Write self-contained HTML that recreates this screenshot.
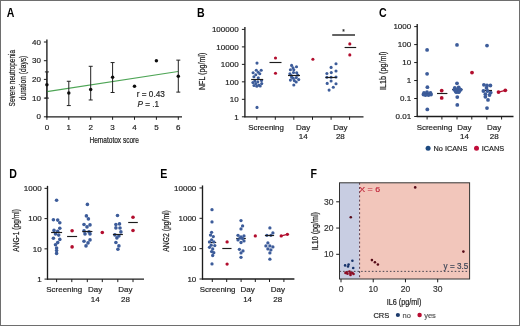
<!DOCTYPE html>
<html><head><meta charset="utf-8"><style>
html,body{margin:0;padding:0;background:#fff;}
svg{display:block;}
text{font-family:"Liberation Sans", sans-serif;}
</style></head><body>
<svg width="520" height="326" viewBox="0 0 520 326">
<defs><filter id="soft" x="-5%" y="-5%" width="110%" height="110%"><feGaussianBlur stdDeviation="0.32"/></filter></defs>
<rect x="0" y="0" width="520" height="326" fill="#fff"/>
<g filter="url(#soft)">
<rect x="1" y="1" width="518" height="324" fill="#fff"/>
<text x="0" y="0" font-size="10.6" font-weight="bold" fill="#000" transform="translate(6.80 16.90) scale(1 1.12)">A</text>
<path d="M46.9 39.5L46.9 117.3" stroke="#1c1c1c" stroke-width="1.35"/>
<path d="M43.9 116.8L46.9 116.8" stroke="#1c1c1c" stroke-width="1.0"/>
<text x="40.9" y="119.3" font-size="8.0" fill="#222" text-anchor="end" stroke="#222" stroke-width="0.18">0</text>
<path d="M43.9 98.1L46.9 98.1" stroke="#1c1c1c" stroke-width="1.0"/>
<text x="40.9" y="100.6" font-size="8.0" fill="#222" text-anchor="end" stroke="#222" stroke-width="0.18">10</text>
<path d="M43.9 79.4L46.9 79.4" stroke="#1c1c1c" stroke-width="1.0"/>
<text x="40.9" y="81.9" font-size="8.0" fill="#222" text-anchor="end" stroke="#222" stroke-width="0.18">20</text>
<path d="M43.9 60.7L46.9 60.7" stroke="#1c1c1c" stroke-width="1.0"/>
<text x="40.9" y="63.2" font-size="8.0" fill="#222" text-anchor="end" stroke="#222" stroke-width="0.18">30</text>
<path d="M43.9 42L46.9 42" stroke="#1c1c1c" stroke-width="1.0"/>
<text x="40.9" y="44.5" font-size="8.0" fill="#222" text-anchor="end" stroke="#222" stroke-width="0.18">40</text>
<path d="M46.4 116.8L182 116.8" stroke="#1c1c1c" stroke-width="1.35"/>
<path d="M46.9 116.8L46.9 119.8" stroke="#1c1c1c" stroke-width="1.0"/>
<text x="46.9" y="130" font-size="8.0" fill="#222" text-anchor="middle" stroke="#222" stroke-width="0.18">0</text>
<path d="M68.8 116.8L68.8 119.8" stroke="#1c1c1c" stroke-width="1.0"/>
<text x="68.8" y="130" font-size="8.0" fill="#222" text-anchor="middle" stroke="#222" stroke-width="0.18">1</text>
<path d="M90.7 116.8L90.7 119.8" stroke="#1c1c1c" stroke-width="1.0"/>
<text x="90.7" y="130" font-size="8.0" fill="#222" text-anchor="middle" stroke="#222" stroke-width="0.18">2</text>
<path d="M112.6 116.8L112.6 119.8" stroke="#1c1c1c" stroke-width="1.0"/>
<text x="112.6" y="130" font-size="8.0" fill="#222" text-anchor="middle" stroke="#222" stroke-width="0.18">3</text>
<path d="M134.5 116.8L134.5 119.8" stroke="#1c1c1c" stroke-width="1.0"/>
<text x="134.5" y="130" font-size="8.0" fill="#222" text-anchor="middle" stroke="#222" stroke-width="0.18">4</text>
<path d="M156.4 116.8L156.4 119.8" stroke="#1c1c1c" stroke-width="1.0"/>
<text x="156.4" y="130" font-size="8.0" fill="#222" text-anchor="middle" stroke="#222" stroke-width="0.18">5</text>
<path d="M178.3 116.8L178.3 119.8" stroke="#1c1c1c" stroke-width="1.0"/>
<text x="178.3" y="130" font-size="8.0" fill="#222" text-anchor="middle" stroke="#222" stroke-width="0.18">6</text>
<text x="114.2" y="142.8" font-size="9.0" fill="#222" text-anchor="middle" stroke="#222" stroke-width="0.22" textLength="49.4" lengthAdjust="spacingAndGlyphs">Hematotox score</text>
<text x="15.3" y="78.2" font-size="9.6" fill="#222" text-anchor="middle" stroke="#222" stroke-width="0.22" textLength="56.4" lengthAdjust="spacingAndGlyphs" transform="rotate(-90 15.3 78.2)">Severe neutropenia</text>
<text x="25.9" y="78" font-size="9.6" fill="#222" text-anchor="middle" stroke="#222" stroke-width="0.22" textLength="44.6" lengthAdjust="spacingAndGlyphs" transform="rotate(-90 25.9 78)">duration (days)</text>
<path d="M47 91.6L178 71.5" stroke="#4ea556" stroke-width="1.1"/>
<path d="M46.9 71.92L46.9 98.1" stroke="#222" stroke-width="1.0"/>
<path d="M44.9 71.92L48.9 71.92" stroke="#222" stroke-width="1.0"/>
<path d="M44.9 98.1L48.9 98.1" stroke="#222" stroke-width="1.0"/>
<path d="M68.8 81.27L68.8 105.58" stroke="#222" stroke-width="1.0"/>
<path d="M66.8 81.27L70.8 81.27" stroke="#222" stroke-width="1.0"/>
<path d="M66.8 105.58L70.8 105.58" stroke="#222" stroke-width="1.0"/>
<path d="M90.7 66.31L90.7 99.97" stroke="#222" stroke-width="1.0"/>
<path d="M88.7 66.31L92.7 66.31" stroke="#222" stroke-width="1.0"/>
<path d="M88.7 99.97L92.7 99.97" stroke="#222" stroke-width="1.0"/>
<path d="M112.6 62.57L112.6 92.49" stroke="#222" stroke-width="1.0"/>
<path d="M110.6 62.57L114.6 62.57" stroke="#222" stroke-width="1.0"/>
<path d="M110.6 92.49L114.6 92.49" stroke="#222" stroke-width="1.0"/>
<path d="M178.3 60.14L178.3 92.12" stroke="#222" stroke-width="1.0"/>
<path d="M176.3 60.14L180.3 60.14" stroke="#222" stroke-width="1.0"/>
<path d="M176.3 92.12L180.3 92.12" stroke="#222" stroke-width="1.0"/>
<circle cx="46.9" cy="84.82" r="1.75" fill="#111"/>
<circle cx="68.8" cy="93.05" r="1.75" fill="#111"/>
<circle cx="90.7" cy="89.5" r="1.75" fill="#111"/>
<circle cx="112.6" cy="77.34" r="1.75" fill="#111"/>
<circle cx="134.5" cy="86.13" r="1.75" fill="#111"/>
<circle cx="156.4" cy="60.7" r="1.75" fill="#111"/>
<circle cx="178.3" cy="76.22" r="1.75" fill="#111"/>
<text x="136.8" y="97" font-size="8.2" fill="#222" stroke="#222" stroke-width="0.18">r = 0.43</text>
<text x="137.4" y="106.8" font-size="8.2" fill="#222" stroke="#222" stroke-width="0.18"><tspan font-style="italic">P</tspan> = .1</text>
<text x="0" y="0" font-size="10.6" font-weight="bold" fill="#000" transform="translate(197.00 17.10) scale(1 1.12)">B</text>
<path d="M244.9 26.9L244.9 117.3" stroke="#1c1c1c" stroke-width="1.35"/>
<path d="M241.9 116.8L244.9 116.8" stroke="#1c1c1c" stroke-width="1.0"/>
<text x="238.6" y="119.5" font-size="8.0" fill="#222" text-anchor="end" stroke="#222" stroke-width="0.18">1</text>
<path d="M241.9 99.32L244.9 99.32" stroke="#1c1c1c" stroke-width="1.0"/>
<text x="238.6" y="102.02" font-size="8.0" fill="#222" text-anchor="end" stroke="#222" stroke-width="0.18">10</text>
<path d="M241.9 81.84L244.9 81.84" stroke="#1c1c1c" stroke-width="1.0"/>
<text x="238.6" y="84.54" font-size="8.0" fill="#222" text-anchor="end" stroke="#222" stroke-width="0.18">100</text>
<path d="M241.9 64.36L244.9 64.36" stroke="#1c1c1c" stroke-width="1.0"/>
<text x="238.6" y="67.06" font-size="8.0" fill="#222" text-anchor="end" stroke="#222" stroke-width="0.18">1000</text>
<path d="M241.9 46.88L244.9 46.88" stroke="#1c1c1c" stroke-width="1.0"/>
<text x="238.6" y="49.58" font-size="8.0" fill="#222" text-anchor="end" stroke="#222" stroke-width="0.18">10000</text>
<path d="M241.9 29.4L244.9 29.4" stroke="#1c1c1c" stroke-width="1.0"/>
<text x="238.6" y="32.1" font-size="8.0" fill="#222" text-anchor="end" stroke="#222" stroke-width="0.18">100000</text>
<path d="M244.4 116.8L363.5 116.8" stroke="#1c1c1c" stroke-width="1.35"/>
<path d="M256.8 116.8L256.8 119.8" stroke="#1c1c1c" stroke-width="1.0"/>
<path d="M275.3 116.8L275.3 119.8" stroke="#1c1c1c" stroke-width="1.0"/>
<path d="M293.8 116.8L293.8 119.8" stroke="#1c1c1c" stroke-width="1.0"/>
<path d="M312.5 116.8L312.5 119.8" stroke="#1c1c1c" stroke-width="1.0"/>
<path d="M331.1 116.8L331.1 119.8" stroke="#1c1c1c" stroke-width="1.0"/>
<path d="M349.6 116.8L349.6 119.8" stroke="#1c1c1c" stroke-width="1.0"/>
<text x="266.05" y="129.5" font-size="7.95" fill="#222" text-anchor="middle" stroke="#222" stroke-width="0.18">Screening</text>
<text x="303.15" y="129.5" font-size="8.0" fill="#222" text-anchor="middle" stroke="#222" stroke-width="0.18">Day</text>
<text x="303.15" y="139.1" font-size="8.0" fill="#222" text-anchor="middle" stroke="#222" stroke-width="0.18">14</text>
<text x="340.35" y="129.5" font-size="8.0" fill="#222" text-anchor="middle" stroke="#222" stroke-width="0.18">Day</text>
<text x="340.35" y="139.1" font-size="8.0" fill="#222" text-anchor="middle" stroke="#222" stroke-width="0.18">28</text>
<text x="205.3" y="71.4" font-size="9.0" fill="#222" text-anchor="middle" stroke="#222" stroke-width="0.22" textLength="37.4" lengthAdjust="spacingAndGlyphs" transform="rotate(-90 205.3 71.4)">NFL (pg/ml)</text>
<circle cx="257" cy="63.1" r="1.55" fill="#3c5c9a"/>
<circle cx="256.3" cy="70.3" r="1.55" fill="#3c5c9a"/>
<circle cx="261.2" cy="70.3" r="1.55" fill="#3c5c9a"/>
<circle cx="253.1" cy="72.8" r="1.55" fill="#3c5c9a"/>
<circle cx="258.3" cy="72.3" r="1.55" fill="#3c5c9a"/>
<circle cx="255.8" cy="74.7" r="1.55" fill="#3c5c9a"/>
<circle cx="259.8" cy="73.8" r="1.55" fill="#3c5c9a"/>
<circle cx="253.9" cy="76.7" r="1.55" fill="#3c5c9a"/>
<circle cx="258.3" cy="77.7" r="1.55" fill="#3c5c9a"/>
<circle cx="252.9" cy="82.6" r="1.55" fill="#3c5c9a"/>
<circle cx="255.8" cy="83.6" r="1.55" fill="#3c5c9a"/>
<circle cx="258.8" cy="85.1" r="1.55" fill="#3c5c9a"/>
<circle cx="261.7" cy="83.6" r="1.55" fill="#3c5c9a"/>
<circle cx="257" cy="107.4" r="1.55" fill="#3c5c9a"/>
<circle cx="261.5" cy="80.5" r="1.55" fill="#3c5c9a"/>
<circle cx="254.8" cy="81" r="1.55" fill="#3c5c9a"/>
<circle cx="257.8" cy="81.8" r="1.55" fill="#3c5c9a"/>
<circle cx="254" cy="85.5" r="1.55" fill="#3c5c9a"/>
<circle cx="256.8" cy="86.2" r="1.55" fill="#3c5c9a"/>
<circle cx="260.2" cy="86" r="1.55" fill="#3c5c9a"/>
<path d="M251.2 79.5L263.2 79.5" stroke="#1a1a1a" stroke-width="1.15"/>
<circle cx="275.5" cy="58" r="1.55" fill="#b20f2e"/>
<circle cx="275.5" cy="73.3" r="1.55" fill="#b20f2e"/>
<path d="M269.5 62.5L281.5 62.5" stroke="#1a1a1a" stroke-width="1.15"/>
<circle cx="291.6" cy="65.4" r="1.55" fill="#3c5c9a"/>
<circle cx="296.5" cy="66.7" r="1.55" fill="#3c5c9a"/>
<circle cx="290.4" cy="69.8" r="1.55" fill="#3c5c9a"/>
<circle cx="293.8" cy="69.8" r="1.55" fill="#3c5c9a"/>
<circle cx="296.7" cy="72.7" r="1.55" fill="#3c5c9a"/>
<circle cx="289.9" cy="73.7" r="1.55" fill="#3c5c9a"/>
<circle cx="291.8" cy="77.2" r="1.55" fill="#3c5c9a"/>
<circle cx="296.3" cy="77.6" r="1.55" fill="#3c5c9a"/>
<circle cx="290.4" cy="80.1" r="1.55" fill="#3c5c9a"/>
<circle cx="294.3" cy="80.6" r="1.55" fill="#3c5c9a"/>
<circle cx="298.7" cy="79.6" r="1.55" fill="#3c5c9a"/>
<circle cx="293.8" cy="85" r="1.55" fill="#3c5c9a"/>
<circle cx="293.5" cy="72.5" r="1.55" fill="#3c5c9a"/>
<circle cx="291.2" cy="75.5" r="1.55" fill="#3c5c9a"/>
<circle cx="297.8" cy="75" r="1.55" fill="#3c5c9a"/>
<circle cx="293.2" cy="78.2" r="1.55" fill="#3c5c9a"/>
<circle cx="296.2" cy="82" r="1.55" fill="#3c5c9a"/>
<circle cx="293" cy="67.8" r="1.55" fill="#3c5c9a"/>
<path d="M288 75.5L300 75.5" stroke="#1a1a1a" stroke-width="1.15"/>
<circle cx="312.9" cy="59.3" r="1.55" fill="#b20f2e"/>
<circle cx="336" cy="63.7" r="1.55" fill="#3c5c9a"/>
<circle cx="331.1" cy="67.4" r="1.55" fill="#3c5c9a"/>
<circle cx="336" cy="71" r="1.55" fill="#3c5c9a"/>
<circle cx="326.9" cy="73.5" r="1.55" fill="#3c5c9a"/>
<circle cx="331.3" cy="72.6" r="1.55" fill="#3c5c9a"/>
<circle cx="326.9" cy="77.3" r="1.55" fill="#3c5c9a"/>
<circle cx="331.1" cy="77.3" r="1.55" fill="#3c5c9a"/>
<circle cx="336" cy="77" r="1.55" fill="#3c5c9a"/>
<circle cx="331.1" cy="81" r="1.55" fill="#3c5c9a"/>
<circle cx="327.2" cy="83.4" r="1.55" fill="#3c5c9a"/>
<circle cx="336" cy="83.8" r="1.55" fill="#3c5c9a"/>
<circle cx="333.3" cy="87.3" r="1.55" fill="#3c5c9a"/>
<circle cx="329.1" cy="90.1" r="1.55" fill="#3c5c9a"/>
<path d="M325.5 77.5L336.7 77.5" stroke="#1a1a1a" stroke-width="1.15"/>
<circle cx="349.8" cy="43.9" r="1.55" fill="#b20f2e"/>
<circle cx="349.8" cy="54.9" r="1.55" fill="#b20f2e"/>
<path d="M344.6 47.5L356.2 47.5" stroke="#1a1a1a" stroke-width="1.15"/>
<path d="M332.2 35L355 35" stroke="#222" stroke-width="1.4"/>
<text x="343.5" y="33.6" font-size="6.5" fill="#222" text-anchor="middle" stroke="#222" stroke-width="0.18">*</text>
<text x="0" y="0" font-size="10.6" font-weight="bold" fill="#000" transform="translate(379.00 17.10) scale(1 1.12)">C</text>
<path d="M417.2 24.1L417.2 117" stroke="#1c1c1c" stroke-width="1.35"/>
<path d="M414.2 116.5L417.2 116.5" stroke="#1c1c1c" stroke-width="1.0"/>
<text x="411.2" y="119.2" font-size="8.0" fill="#222" text-anchor="end" stroke="#222" stroke-width="0.18">0.01</text>
<path d="M414.2 98.52L417.2 98.52" stroke="#1c1c1c" stroke-width="1.0"/>
<text x="411.2" y="101.22" font-size="8.0" fill="#222" text-anchor="end" stroke="#222" stroke-width="0.18">0.1</text>
<path d="M414.2 80.54L417.2 80.54" stroke="#1c1c1c" stroke-width="1.0"/>
<text x="411.2" y="83.24" font-size="8.0" fill="#222" text-anchor="end" stroke="#222" stroke-width="0.18">1</text>
<path d="M414.2 62.56L417.2 62.56" stroke="#1c1c1c" stroke-width="1.0"/>
<text x="411.2" y="65.26" font-size="8.0" fill="#222" text-anchor="end" stroke="#222" stroke-width="0.18">10</text>
<path d="M414.2 44.58L417.2 44.58" stroke="#1c1c1c" stroke-width="1.0"/>
<text x="411.2" y="47.28" font-size="8.0" fill="#222" text-anchor="end" stroke="#222" stroke-width="0.18">100</text>
<path d="M414.2 26.6L417.2 26.6" stroke="#1c1c1c" stroke-width="1.0"/>
<text x="411.2" y="29.3" font-size="8.0" fill="#222" text-anchor="end" stroke="#222" stroke-width="0.18">1000</text>
<path d="M416.7 116.5L513.5 116.5" stroke="#1c1c1c" stroke-width="1.35"/>
<path d="M427.1 116.5L427.1 119.5" stroke="#1c1c1c" stroke-width="1.0"/>
<path d="M441.9 116.5L441.9 119.5" stroke="#1c1c1c" stroke-width="1.0"/>
<path d="M457 116.5L457 119.5" stroke="#1c1c1c" stroke-width="1.0"/>
<path d="M471.8 116.5L471.8 119.5" stroke="#1c1c1c" stroke-width="1.0"/>
<path d="M486.8 116.5L486.8 119.5" stroke="#1c1c1c" stroke-width="1.0"/>
<path d="M501.6 116.5L501.6 119.5" stroke="#1c1c1c" stroke-width="1.0"/>
<text x="434.5" y="129.7" font-size="7.95" fill="#222" text-anchor="middle" stroke="#222" stroke-width="0.18">Screening</text>
<text x="464.4" y="129.7" font-size="8.0" fill="#222" text-anchor="middle" stroke="#222" stroke-width="0.18">Day</text>
<text x="464.4" y="138.9" font-size="8.0" fill="#222" text-anchor="middle" stroke="#222" stroke-width="0.18">14</text>
<text x="494.2" y="129.7" font-size="8.0" fill="#222" text-anchor="middle" stroke="#222" stroke-width="0.18">Day</text>
<text x="494.2" y="138.9" font-size="8.0" fill="#222" text-anchor="middle" stroke="#222" stroke-width="0.18">28</text>
<text x="385.9" y="70.8" font-size="9.0" fill="#222" text-anchor="middle" stroke="#222" stroke-width="0.22" textLength="38.4" lengthAdjust="spacingAndGlyphs" transform="rotate(-90 385.9 70.8)">IL1b (pg/ml)</text>
<path d="M421.9 93.5L432.3 93.5" stroke="#1a1a1a" stroke-width="1.15"/>
<path d="M452.1 89.5L462.5 89.5" stroke="#1a1a1a" stroke-width="1.15"/>
<path d="M482 90.5L492 90.5" stroke="#1a1a1a" stroke-width="1.15"/>
<circle cx="427.1" cy="49.9" r="1.9" fill="#3c5c9a"/>
<circle cx="427.1" cy="73.8" r="1.9" fill="#3c5c9a"/>
<circle cx="427.4" cy="87.2" r="1.9" fill="#3c5c9a"/>
<circle cx="424" cy="93" r="1.9" fill="#3c5c9a"/>
<circle cx="427" cy="92.2" r="1.9" fill="#3c5c9a"/>
<circle cx="430.5" cy="93" r="1.9" fill="#3c5c9a"/>
<circle cx="425.5" cy="95" r="1.9" fill="#3c5c9a"/>
<circle cx="428.5" cy="95" r="1.9" fill="#3c5c9a"/>
<circle cx="423.5" cy="94.6" r="1.9" fill="#3c5c9a"/>
<circle cx="431" cy="94.6" r="1.9" fill="#3c5c9a"/>
<circle cx="427.3" cy="109.4" r="1.9" fill="#3c5c9a"/>
<circle cx="441.7" cy="90.6" r="1.9" fill="#b20f2e"/>
<circle cx="441.7" cy="97.9" r="1.9" fill="#b20f2e"/>
<path d="M437 93.5L447.4 93.5" stroke="#1a1a1a" stroke-width="1.15"/>
<circle cx="457" cy="44.9" r="1.9" fill="#3c5c9a"/>
<circle cx="457" cy="83.3" r="1.9" fill="#3c5c9a"/>
<circle cx="454.8" cy="87.8" r="1.9" fill="#3c5c9a"/>
<circle cx="458.7" cy="87.3" r="1.9" fill="#3c5c9a"/>
<circle cx="454.3" cy="89.7" r="1.9" fill="#3c5c9a"/>
<circle cx="457.3" cy="89.7" r="1.9" fill="#3c5c9a"/>
<circle cx="460.7" cy="89.7" r="1.9" fill="#3c5c9a"/>
<circle cx="456.3" cy="92.2" r="1.9" fill="#3c5c9a"/>
<circle cx="458.7" cy="92.2" r="1.9" fill="#3c5c9a"/>
<circle cx="455.5" cy="91" r="1.9" fill="#3c5c9a"/>
<circle cx="459.5" cy="90.8" r="1.9" fill="#3c5c9a"/>
<circle cx="457.3" cy="97.1" r="1.9" fill="#3c5c9a"/>
<circle cx="457.3" cy="104.9" r="1.9" fill="#3c5c9a"/>
<circle cx="472" cy="72.6" r="1.9" fill="#b20f2e"/>
<circle cx="487" cy="45.6" r="1.9" fill="#3c5c9a"/>
<circle cx="483.9" cy="84.8" r="1.9" fill="#3c5c9a"/>
<circle cx="487" cy="85.5" r="1.9" fill="#3c5c9a"/>
<circle cx="490.4" cy="85.5" r="1.9" fill="#3c5c9a"/>
<circle cx="486.5" cy="87.9" r="1.9" fill="#3c5c9a"/>
<circle cx="483.4" cy="91" r="1.9" fill="#3c5c9a"/>
<circle cx="487.5" cy="91" r="1.9" fill="#3c5c9a"/>
<circle cx="490.7" cy="92.6" r="1.9" fill="#3c5c9a"/>
<circle cx="485.4" cy="94.2" r="1.9" fill="#3c5c9a"/>
<circle cx="485.4" cy="96.8" r="1.9" fill="#3c5c9a"/>
<circle cx="488" cy="99.9" r="1.9" fill="#3c5c9a"/>
<circle cx="487" cy="108.1" r="1.9" fill="#3c5c9a"/>
<circle cx="489.5" cy="95" r="1.9" fill="#3c5c9a"/>
<circle cx="498.5" cy="92.1" r="1.9" fill="#b20f2e"/>
<circle cx="505.3" cy="90.3" r="1.9" fill="#b20f2e"/>
<path d="M498.5 92.1L505.3 90.3" stroke="#b20f2e" stroke-width="1.3"/>
<circle cx="428.1" cy="148.3" r="2.5" fill="#1f4a80"/>
<text x="433.6" y="150.9" font-size="7.3" fill="#222" stroke="#222" stroke-width="0.18">No ICANS</text>
<circle cx="476.5" cy="148.3" r="2.5" fill="#c0103a"/>
<text x="481.8" y="150.9" font-size="7.3" fill="#222" stroke="#222" stroke-width="0.18">ICANS</text>
<text x="0" y="0" font-size="10.6" font-weight="bold" fill="#000" transform="translate(9.30 178.30) scale(1 1.12)">D</text>
<path d="M47.5 185.85L47.5 279.6" stroke="#1c1c1c" stroke-width="1.35"/>
<path d="M44.5 279.1L47.5 279.1" stroke="#1c1c1c" stroke-width="1.0"/>
<text x="41.6" y="281.8" font-size="8.0" fill="#222" text-anchor="end" stroke="#222" stroke-width="0.18">1</text>
<path d="M44.5 248.85L47.5 248.85" stroke="#1c1c1c" stroke-width="1.0"/>
<text x="41.6" y="251.55" font-size="8.0" fill="#222" text-anchor="end" stroke="#222" stroke-width="0.18">10</text>
<path d="M44.5 218.6L47.5 218.6" stroke="#1c1c1c" stroke-width="1.0"/>
<text x="41.6" y="221.3" font-size="8.0" fill="#222" text-anchor="end" stroke="#222" stroke-width="0.18">100</text>
<path d="M44.5 188.35L47.5 188.35" stroke="#1c1c1c" stroke-width="1.0"/>
<text x="41.6" y="191.05" font-size="8.0" fill="#222" text-anchor="end" stroke="#222" stroke-width="0.18">1000</text>
<path d="M47 279.1L144 279.1" stroke="#1c1c1c" stroke-width="1.35"/>
<path d="M56.6 279.1L56.6 282.1" stroke="#1c1c1c" stroke-width="1.0"/>
<path d="M71.8 279.1L71.8 282.1" stroke="#1c1c1c" stroke-width="1.0"/>
<path d="M87.3 279.1L87.3 282.1" stroke="#1c1c1c" stroke-width="1.0"/>
<path d="M102.3 279.1L102.3 282.1" stroke="#1c1c1c" stroke-width="1.0"/>
<path d="M117.8 279.1L117.8 282.1" stroke="#1c1c1c" stroke-width="1.0"/>
<path d="M133 279.1L133 282.1" stroke="#1c1c1c" stroke-width="1.0"/>
<text x="64.2" y="291.9" font-size="7.95" fill="#222" text-anchor="middle" stroke="#222" stroke-width="0.18">Screening</text>
<text x="95.2" y="291.9" font-size="8.0" fill="#222" text-anchor="middle" stroke="#222" stroke-width="0.18">Day</text>
<text x="95.2" y="302.2" font-size="8.0" fill="#222" text-anchor="middle" stroke="#222" stroke-width="0.18">14</text>
<text x="125.4" y="291.9" font-size="8.0" fill="#222" text-anchor="middle" stroke="#222" stroke-width="0.18">Day</text>
<text x="125.4" y="302.2" font-size="8.0" fill="#222" text-anchor="middle" stroke="#222" stroke-width="0.18">28</text>
<text x="18.8" y="230.4" font-size="9.0" fill="#222" text-anchor="middle" stroke="#222" stroke-width="0.22" textLength="42.6" lengthAdjust="spacingAndGlyphs" transform="rotate(-90 18.8 230.4)">ANG-1 (pg/ml)</text>
<circle cx="56.6" cy="200.3" r="1.8" fill="#3c5c9a"/>
<circle cx="53.4" cy="219.7" r="1.8" fill="#3c5c9a"/>
<circle cx="57.7" cy="220.1" r="1.8" fill="#3c5c9a"/>
<circle cx="59.8" cy="222.7" r="1.8" fill="#3c5c9a"/>
<circle cx="59.8" cy="228.2" r="1.8" fill="#3c5c9a"/>
<circle cx="54" cy="230.4" r="1.8" fill="#3c5c9a"/>
<circle cx="57.7" cy="231.3" r="1.8" fill="#3c5c9a"/>
<circle cx="55.5" cy="234" r="1.8" fill="#3c5c9a"/>
<circle cx="58.7" cy="235.1" r="1.8" fill="#3c5c9a"/>
<circle cx="53.4" cy="238.3" r="1.8" fill="#3c5c9a"/>
<circle cx="59.8" cy="239.4" r="1.8" fill="#3c5c9a"/>
<circle cx="57.7" cy="242.6" r="1.8" fill="#3c5c9a"/>
<circle cx="55.5" cy="244.8" r="1.8" fill="#3c5c9a"/>
<circle cx="56.6" cy="248" r="1.8" fill="#3c5c9a"/>
<circle cx="56.6" cy="250.6" r="1.8" fill="#3c5c9a"/>
<circle cx="56.6" cy="253.4" r="1.8" fill="#3c5c9a"/>
<path d="M51.1 232.5L62.1 232.5" stroke="#1a1a1a" stroke-width="1.15"/>
<circle cx="72.1" cy="230.8" r="1.8" fill="#b20f2e"/>
<circle cx="72.1" cy="246.9" r="1.8" fill="#b20f2e"/>
<path d="M67.1 236.5L77.1 236.5" stroke="#1a1a1a" stroke-width="1.15"/>
<circle cx="87.4" cy="204.4" r="1.8" fill="#3c5c9a"/>
<circle cx="86.4" cy="215.9" r="1.8" fill="#3c5c9a"/>
<circle cx="88.4" cy="218.9" r="1.8" fill="#3c5c9a"/>
<circle cx="84" cy="224.5" r="1.8" fill="#3c5c9a"/>
<circle cx="90" cy="224.9" r="1.8" fill="#3c5c9a"/>
<circle cx="87" cy="226.9" r="1.8" fill="#3c5c9a"/>
<circle cx="84" cy="230.9" r="1.8" fill="#3c5c9a"/>
<circle cx="89" cy="231.9" r="1.8" fill="#3c5c9a"/>
<circle cx="85" cy="233.9" r="1.8" fill="#3c5c9a"/>
<circle cx="90" cy="233.9" r="1.8" fill="#3c5c9a"/>
<circle cx="84" cy="241.3" r="1.8" fill="#3c5c9a"/>
<circle cx="90" cy="239.9" r="1.8" fill="#3c5c9a"/>
<circle cx="88" cy="242.9" r="1.8" fill="#3c5c9a"/>
<circle cx="86" cy="245.9" r="1.8" fill="#3c5c9a"/>
<path d="M82.4 231.5L92.4 231.5" stroke="#1a1a1a" stroke-width="1.15"/>
<circle cx="102.3" cy="232.5" r="1.8" fill="#b20f2e"/>
<circle cx="117.5" cy="215.5" r="1.8" fill="#3c5c9a"/>
<circle cx="115.9" cy="224.5" r="1.8" fill="#3c5c9a"/>
<circle cx="119.5" cy="223.9" r="1.8" fill="#3c5c9a"/>
<circle cx="115.9" cy="227.9" r="1.8" fill="#3c5c9a"/>
<circle cx="120.9" cy="231.9" r="1.8" fill="#3c5c9a"/>
<circle cx="114.9" cy="234.9" r="1.8" fill="#3c5c9a"/>
<circle cx="118.9" cy="235.9" r="1.8" fill="#3c5c9a"/>
<circle cx="116.9" cy="237.9" r="1.8" fill="#3c5c9a"/>
<circle cx="115.9" cy="242.5" r="1.8" fill="#3c5c9a"/>
<circle cx="118.9" cy="245.9" r="1.8" fill="#3c5c9a"/>
<circle cx="117.9" cy="249.2" r="1.8" fill="#3c5c9a"/>
<circle cx="120" cy="228" r="1.8" fill="#3c5c9a"/>
<path d="M112.9 234.5L122.9 234.5" stroke="#1a1a1a" stroke-width="1.15"/>
<circle cx="133" cy="217.3" r="1.8" fill="#b20f2e"/>
<circle cx="133" cy="230.5" r="1.8" fill="#b20f2e"/>
<path d="M128.2 222.5L137.8 222.5" stroke="#1a1a1a" stroke-width="1.15"/>
<text x="0" y="0" font-size="10.6" font-weight="bold" fill="#000" transform="translate(160.30 178.30) scale(1 1.12)">E</text>
<path d="M202.5 185.45L202.5 279.5" stroke="#1c1c1c" stroke-width="1.35"/>
<path d="M199.5 279L202.5 279" stroke="#1c1c1c" stroke-width="1.0"/>
<text x="196.3" y="281.7" font-size="8.0" fill="#222" text-anchor="end" stroke="#222" stroke-width="0.18">10</text>
<path d="M199.5 248.65L202.5 248.65" stroke="#1c1c1c" stroke-width="1.0"/>
<text x="196.3" y="251.35" font-size="8.0" fill="#222" text-anchor="end" stroke="#222" stroke-width="0.18">100</text>
<path d="M199.5 218.3L202.5 218.3" stroke="#1c1c1c" stroke-width="1.0"/>
<text x="196.3" y="221" font-size="8.0" fill="#222" text-anchor="end" stroke="#222" stroke-width="0.18">1000</text>
<path d="M199.5 187.95L202.5 187.95" stroke="#1c1c1c" stroke-width="1.0"/>
<text x="196.3" y="190.65" font-size="8.0" fill="#222" text-anchor="end" stroke="#222" stroke-width="0.18">10000</text>
<path d="M202 279L294.4 279" stroke="#1c1c1c" stroke-width="1.35"/>
<path d="M212.3 279L212.3 282" stroke="#1c1c1c" stroke-width="1.0"/>
<path d="M226.7 279L226.7 282" stroke="#1c1c1c" stroke-width="1.0"/>
<path d="M241.1 279L241.1 282" stroke="#1c1c1c" stroke-width="1.0"/>
<path d="M255.3 279L255.3 282" stroke="#1c1c1c" stroke-width="1.0"/>
<path d="M269.5 279L269.5 282" stroke="#1c1c1c" stroke-width="1.0"/>
<path d="M283.9 279L283.9 282" stroke="#1c1c1c" stroke-width="1.0"/>
<text x="217.6" y="292.1" font-size="7.95" fill="#222" text-anchor="middle" stroke="#222" stroke-width="0.18">Screening</text>
<text x="247.6" y="292.1" font-size="8.0" fill="#222" text-anchor="middle" stroke="#222" stroke-width="0.18">Day</text>
<text x="247.6" y="301.6" font-size="8.0" fill="#222" text-anchor="middle" stroke="#222" stroke-width="0.18">14</text>
<text x="277.8" y="292.1" font-size="8.0" fill="#222" text-anchor="middle" stroke="#222" stroke-width="0.18">Day</text>
<text x="277.8" y="301.6" font-size="8.0" fill="#222" text-anchor="middle" stroke="#222" stroke-width="0.18">28</text>
<text x="168.9" y="230.9" font-size="9.0" fill="#222" text-anchor="middle" stroke="#222" stroke-width="0.22" textLength="41.5" lengthAdjust="spacingAndGlyphs" transform="rotate(-90 168.9 230.9)">ANG2 (pg/ml)</text>
<path d="M208.2 242.5L216.2 242.5" stroke="#1a1a1a" stroke-width="1.15"/>
<circle cx="212" cy="209.7" r="1.65" fill="#3c5c9a"/>
<circle cx="212" cy="221.9" r="1.65" fill="#3c5c9a"/>
<circle cx="211.6" cy="232.3" r="1.65" fill="#3c5c9a"/>
<circle cx="210.5" cy="235.1" r="1.65" fill="#3c5c9a"/>
<circle cx="213.3" cy="236.6" r="1.65" fill="#3c5c9a"/>
<circle cx="211.6" cy="239.8" r="1.65" fill="#3c5c9a"/>
<circle cx="209.5" cy="241.9" r="1.65" fill="#3c5c9a"/>
<circle cx="213.8" cy="241.9" r="1.65" fill="#3c5c9a"/>
<circle cx="211.2" cy="245.2" r="1.65" fill="#3c5c9a"/>
<circle cx="214.8" cy="245.6" r="1.65" fill="#3c5c9a"/>
<circle cx="209.5" cy="247.3" r="1.65" fill="#3c5c9a"/>
<circle cx="212.7" cy="249" r="1.65" fill="#3c5c9a"/>
<circle cx="211.6" cy="251.6" r="1.65" fill="#3c5c9a"/>
<circle cx="213.8" cy="252.7" r="1.65" fill="#3c5c9a"/>
<circle cx="212.7" cy="255.5" r="1.65" fill="#3c5c9a"/>
<circle cx="212" cy="263.9" r="1.65" fill="#3c5c9a"/>
<circle cx="227.1" cy="241.9" r="1.65" fill="#b20f2e"/>
<circle cx="227.1" cy="264.1" r="1.65" fill="#b20f2e"/>
<path d="M222.3 248.5L231.5 248.5" stroke="#1a1a1a" stroke-width="1.15"/>
<path d="M236.2 238.5L245.8 238.5" stroke="#1a1a1a" stroke-width="1.15"/>
<circle cx="241" cy="220.6" r="1.65" fill="#3c5c9a"/>
<circle cx="242.6" cy="225.9" r="1.65" fill="#3c5c9a"/>
<circle cx="241" cy="228.9" r="1.65" fill="#3c5c9a"/>
<circle cx="238" cy="235.3" r="1.65" fill="#3c5c9a"/>
<circle cx="244" cy="235.9" r="1.65" fill="#3c5c9a"/>
<circle cx="241" cy="236.9" r="1.65" fill="#3c5c9a"/>
<circle cx="238" cy="239.9" r="1.65" fill="#3c5c9a"/>
<circle cx="244" cy="240.9" r="1.65" fill="#3c5c9a"/>
<circle cx="241" cy="242.5" r="1.65" fill="#3c5c9a"/>
<circle cx="240" cy="238" r="1.65" fill="#3c5c9a"/>
<circle cx="242.5" cy="238.5" r="1.65" fill="#3c5c9a"/>
<circle cx="239.4" cy="249.3" r="1.65" fill="#3c5c9a"/>
<circle cx="243" cy="250.9" r="1.65" fill="#3c5c9a"/>
<circle cx="241" cy="252.9" r="1.65" fill="#3c5c9a"/>
<circle cx="241" cy="257.3" r="1.65" fill="#3c5c9a"/>
<circle cx="255.3" cy="235.9" r="1.65" fill="#b20f2e"/>
<circle cx="269.9" cy="227.9" r="1.65" fill="#3c5c9a"/>
<circle cx="272.9" cy="232.9" r="1.65" fill="#3c5c9a"/>
<circle cx="266.9" cy="235.3" r="1.65" fill="#3c5c9a"/>
<circle cx="270.9" cy="235.3" r="1.65" fill="#3c5c9a"/>
<circle cx="267.9" cy="242.9" r="1.65" fill="#3c5c9a"/>
<circle cx="265.9" cy="245.9" r="1.65" fill="#3c5c9a"/>
<circle cx="269.9" cy="245.9" r="1.65" fill="#3c5c9a"/>
<circle cx="272.9" cy="246.9" r="1.65" fill="#3c5c9a"/>
<circle cx="267.9" cy="248.9" r="1.65" fill="#3c5c9a"/>
<circle cx="270.9" cy="249.9" r="1.65" fill="#3c5c9a"/>
<circle cx="269.9" cy="252.9" r="1.65" fill="#3c5c9a"/>
<circle cx="269.9" cy="259.2" r="1.65" fill="#3c5c9a"/>
<path d="M264.9 235.5L274.1 235.5" stroke="#1a1a1a" stroke-width="1.15"/>
<circle cx="281.2" cy="235.9" r="1.65" fill="#b20f2e"/>
<circle cx="287.4" cy="234.3" r="1.65" fill="#b20f2e"/>
<path d="M281.2 235.9L287.4 234.3" stroke="#b20f2e" stroke-width="1.3"/>
<text x="0" y="0" font-size="10.6" font-weight="bold" fill="#000" transform="translate(310.60 178.10) scale(1 1.12)">F</text>
<rect x="339.5" y="182.8" width="20.10" height="96.19999999999999" fill="#c8cde2"/>
<rect x="359.60" y="182.8" width="110.00" height="96.19999999999999" fill="#f2c6bb"/>
<path d="M359.6 182.8L359.6 279" stroke="#5a3a4a" stroke-width="1.0" stroke-dasharray="2,2.2"/>
<path d="M339.5 271.36L469.6 271.36" stroke="#4a4650" stroke-width="1.0" stroke-dasharray="1.6,2.0"/>
<rect x="339.5" y="182.8" width="130.10" height="96.20" fill="none" stroke="#333" stroke-width="1"/>
<text x="359.3" y="191.5" font-size="7.9" fill="#c0283c" stroke="#c0283c" stroke-width="0.18" textLength="20.8" lengthAdjust="spacingAndGlyphs">X = 6</text>
<text x="443.6" y="268.9" font-size="8.3" fill="#3c4556" stroke="#3c4556" stroke-width="0.18" textLength="24.6" lengthAdjust="spacingAndGlyphs">y = 3.5</text>
<path d="M336.2 254.3L339.5 254.3" stroke="#1c1c1c" stroke-width="1.0"/>
<text x="333.5" y="257.3" font-size="8.5" fill="#333" text-anchor="end" stroke="#333" stroke-width="0.18">10</text>
<path d="M336.2 228.05L339.5 228.05" stroke="#1c1c1c" stroke-width="1.0"/>
<text x="333.5" y="231.05" font-size="8.5" fill="#333" text-anchor="end" stroke="#333" stroke-width="0.18">20</text>
<path d="M336.2 201.8L339.5 201.8" stroke="#1c1c1c" stroke-width="1.0"/>
<text x="333.5" y="204.8" font-size="8.5" fill="#333" text-anchor="end" stroke="#333" stroke-width="0.18">30</text>
<path d="M341 279L341 282.3" stroke="#1c1c1c" stroke-width="1.0"/>
<text x="341" y="292.4" font-size="8.5" fill="#333" text-anchor="middle" stroke="#333" stroke-width="0.18">0</text>
<path d="M373.23 279L373.23 282.3" stroke="#1c1c1c" stroke-width="1.0"/>
<text x="373.23" y="292.4" font-size="8.5" fill="#333" text-anchor="middle" stroke="#333" stroke-width="0.18">10</text>
<path d="M405.46 279L405.46 282.3" stroke="#1c1c1c" stroke-width="1.0"/>
<text x="405.46" y="292.4" font-size="8.5" fill="#333" text-anchor="middle" stroke="#333" stroke-width="0.18">20</text>
<path d="M437.69 279L437.69 282.3" stroke="#1c1c1c" stroke-width="1.0"/>
<text x="437.69" y="292.4" font-size="8.5" fill="#333" text-anchor="middle" stroke="#333" stroke-width="0.18">30</text>
<text x="404" y="305.3" font-size="9.0" fill="#222" text-anchor="middle" stroke="#222" stroke-width="0.22" textLength="34.6" lengthAdjust="spacingAndGlyphs">IL6 (pg/ml)</text>
<text x="318.5" y="231.1" font-size="9.0" fill="#222" text-anchor="middle" stroke="#222" stroke-width="0.22" textLength="38.2" lengthAdjust="spacingAndGlyphs" transform="rotate(-90 318.5 231.1)">IL10 (pg/ml)</text>
<circle cx="352.4" cy="260.8" r="1.3" fill="#16336a"/>
<circle cx="345.1" cy="265.4" r="1.3" fill="#16336a"/>
<circle cx="348.6" cy="264.6" r="1.3" fill="#16336a"/>
<circle cx="348" cy="266.5" r="1.3" fill="#16336a"/>
<circle cx="353.2" cy="268" r="1.3" fill="#16336a"/>
<circle cx="345.5" cy="273" r="1.3" fill="#8c0a24"/>
<circle cx="349.4" cy="271.5" r="1.3" fill="#8c0a24"/>
<circle cx="350.5" cy="273.4" r="1.3" fill="#8c0a24"/>
<circle cx="352.4" cy="272.8" r="1.3" fill="#8c0a24"/>
<circle cx="347.5" cy="273.8" r="1.3" fill="#8c0a24"/>
<circle cx="350.5" cy="275" r="1.3" fill="#8c0a24"/>
<circle cx="353.5" cy="274" r="1.3" fill="#8c0a24"/>
<circle cx="346.5" cy="272.4" r="1.3" fill="#8c0a24"/>
<circle cx="350.8" cy="217.3" r="1.3" fill="#560818"/>
<circle cx="415.2" cy="187.4" r="1.3" fill="#560818"/>
<circle cx="463.4" cy="251.6" r="1.3" fill="#560818"/>
<circle cx="371.9" cy="260.1" r="1.3" fill="#560818"/>
<circle cx="374.9" cy="262.3" r="1.3" fill="#560818"/>
<circle cx="377.9" cy="264.5" r="1.3" fill="#560818"/>
<text x="373.4" y="317.7" font-size="7.5" fill="#222" stroke="#222" stroke-width="0.18">CRS</text>
<circle cx="397.9" cy="315" r="2.1" fill="#1c3a6c"/>
<text x="402.5" y="317.7" font-size="7.5" fill="#555" stroke="#555" stroke-width="0.18">no</text>
<circle cx="419.6" cy="315" r="2.2" fill="#b80a30"/>
<text x="424.2" y="317.7" font-size="7.5" fill="#555" stroke="#555" stroke-width="0.18">yes</text>
</g>
<rect x="0.5" y="0.5" width="519" height="325" fill="none" stroke="#6e6e6e" stroke-width="1"/>
</svg>
</body></html>
